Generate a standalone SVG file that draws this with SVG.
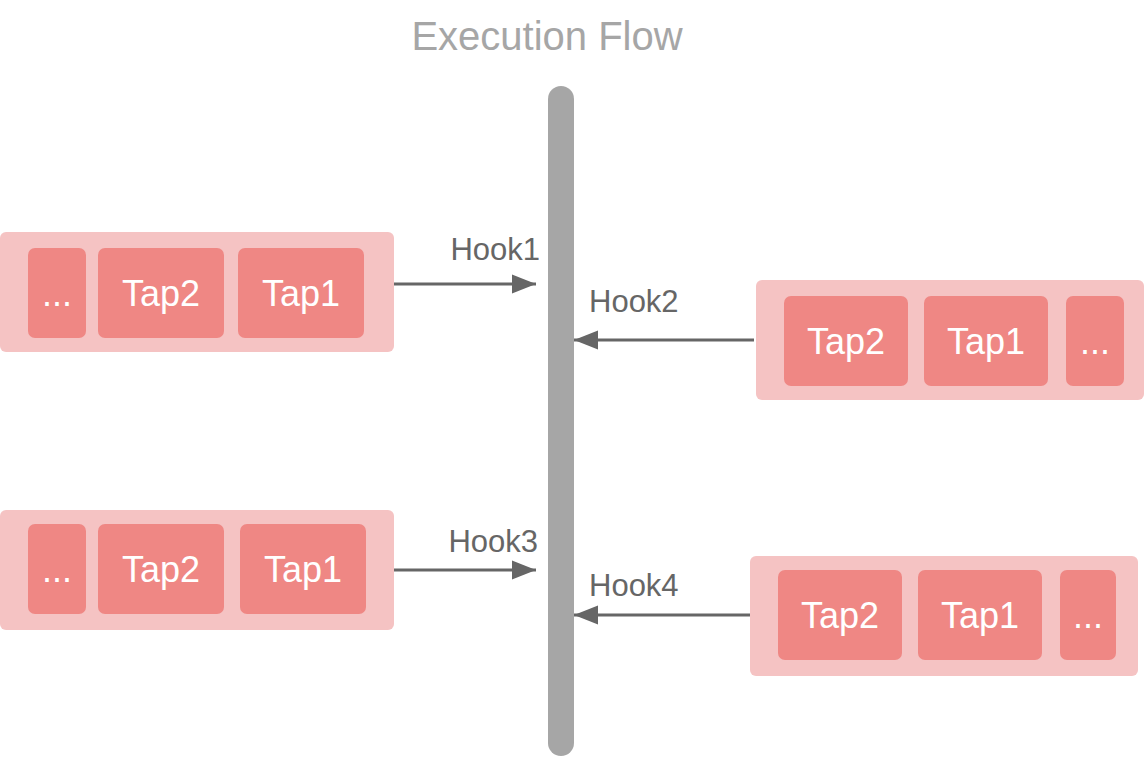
<svg xmlns="http://www.w3.org/2000/svg" width="1144" height="758" viewBox="0 0 1144 758">
<style>
.outer{fill:#f5c3c3}
.inner{fill:#ef8784}
.tap{font-family:"Liberation Sans",Arial,sans-serif;font-size:36px;fill:#ffffff;text-anchor:middle}
.hook{font-family:"Liberation Sans",Arial,sans-serif;font-size:31px;fill:#666666}
.conn{stroke:#666666;stroke-width:3;fill:none}
</style>
<defs>
<marker id="ah" markerWidth="8" markerHeight="6.4" refX="8" refY="3.2" orient="auto" markerUnits="strokeWidth">
<path d="M0,0 L8,3.2 L0,6.4 Z" fill="#666666"/>
</marker>
</defs>
<rect width="1144" height="758" fill="#ffffff"/>
<text x="547" y="50" font-family="'Liberation Sans',Arial,sans-serif" font-size="40" fill="#a6a6a6" text-anchor="middle">Execution Flow</text>
<g id="flow">
<rect x="548" y="86" width="26" height="670" rx="13" fill="#a6a6a6"/>
</g>
<g id="group1">
<rect class="outer" x="0" y="232" width="394" height="120" rx="6"/>
<rect class="inner" x="28" y="248" width="58" height="90" rx="7"/>
<rect class="inner" x="98" y="248" width="126" height="90" rx="7"/>
<rect class="inner" x="238" y="248" width="126" height="90" rx="7"/>
<text class="tap" x="57" y="306">...</text>
<text class="tap" x="161" y="306">Tap2</text>
<text class="tap" x="301" y="306">Tap1</text>
</g>
<g id="group2">
<rect class="outer" x="756" y="280" width="388" height="120" rx="6"/>
<rect class="inner" x="784" y="296" width="124" height="90" rx="7"/>
<rect class="inner" x="924" y="296" width="124" height="90" rx="7"/>
<rect class="inner" x="1066" y="296" width="58" height="90" rx="7"/>
<text class="tap" x="846" y="354">Tap2</text>
<text class="tap" x="986" y="354">Tap1</text>
<text class="tap" x="1095" y="354">...</text>
</g>
<g id="group3">
<rect class="outer" x="0" y="510" width="394" height="120" rx="6"/>
<rect class="inner" x="28" y="524" width="58" height="90" rx="7"/>
<rect class="inner" x="98" y="524" width="126" height="90" rx="7"/>
<rect class="inner" x="240" y="524" width="126" height="90" rx="7"/>
<text class="tap" x="57" y="582">...</text>
<text class="tap" x="161" y="582">Tap2</text>
<text class="tap" x="303" y="582">Tap1</text>
</g>
<g id="group4">
<rect class="outer" x="750" y="556" width="388" height="120" rx="6"/>
<rect class="inner" x="778" y="570" width="124" height="90" rx="7"/>
<rect class="inner" x="918" y="570" width="124" height="90" rx="7"/>
<rect class="inner" x="1060" y="570" width="56" height="90" rx="7"/>
<text class="tap" x="840" y="628">Tap2</text>
<text class="tap" x="980" y="628">Tap1</text>
<text class="tap" x="1088" y="628">...</text>
</g>
<g id="connectors">
<line class="conn" x1="394" y1="284" x2="536" y2="284" marker-end="url(#ah)"/>
<line class="conn" x1="754" y1="340" x2="574" y2="340" marker-end="url(#ah)"/>
<line class="conn" x1="394" y1="570" x2="536" y2="570" marker-end="url(#ah)"/>
<line class="conn" x1="750" y1="615" x2="574" y2="615" marker-end="url(#ah)"/>
<text class="hook" x="540" y="260" text-anchor="end">Hook1</text>
<text class="hook" x="589" y="312">Hook2</text>
<text class="hook" x="538" y="552" text-anchor="end">Hook3</text>
<text class="hook" x="589" y="596">Hook4</text>
</g>
</svg>
